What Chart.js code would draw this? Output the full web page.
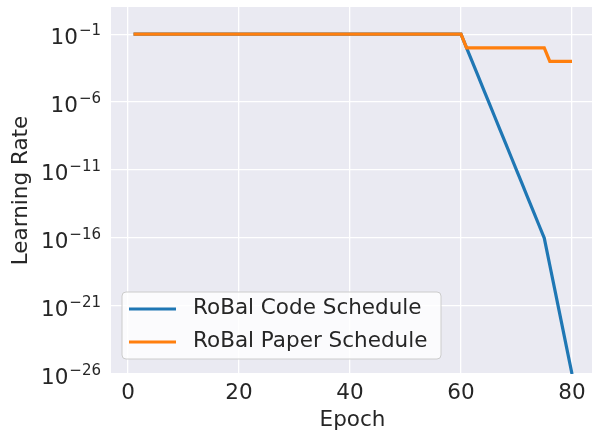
<!DOCTYPE html>
<html>
<head>
<meta charset="utf-8">
<script src="https://cdn.jsdelivr.net/npm/chart.js@4.4.1/dist/chart.umd.min.js"></script>
<style>
  html, body { margin: 0; padding: 0; background: #ffffff; }
  #wrap { width: 592px; height: 433px; }
</style>
</head>
<body>
<div id="wrap"><canvas id="lrChart" width="592" height="433"></canvas></div>
<script>
// epochs 1..80
const epochs = [
  1, 2, 3, 4, 5, 6, 7, 8, 9, 10,
  11, 12, 13, 14, 15, 16, 17, 18, 19, 20,
  21, 22, 23, 24, 25, 26, 27, 28, 29, 30,
  31, 32, 33, 34, 35, 36, 37, 38, 39, 40,
  41, 42, 43, 44, 45, 46, 47, 48, 49, 50,
  51, 52, 53, 54, 55, 56, 57, 58, 59, 60,
  61, 62, 63, 64, 65, 66, 67, 68, 69, 70,
  71, 72, 73, 74, 75, 76, 77, 78, 79, 80
];

const codeSchedule = [
  0.1, 0.1, 0.1, 0.1, 0.1, 0.1, 0.1, 0.1, 0.1, 0.1,
  0.1, 0.1, 0.1, 0.1, 0.1, 0.1, 0.1, 0.1, 0.1, 0.1,
  0.1, 0.1, 0.1, 0.1, 0.1, 0.1, 0.1, 0.1, 0.1, 0.1,
  0.1, 0.1, 0.1, 0.1, 0.1, 0.1, 0.1, 0.1, 0.1, 0.1,
  0.1, 0.1, 0.1, 0.1, 0.1, 0.1, 0.1, 0.1, 0.1, 0.1,
  0.1, 0.1, 0.1, 0.1, 0.1, 0.1, 0.1, 0.1, 0.1, 0.1,
  1e-2, 1e-3, 1e-4, 1e-5, 1e-6, 1e-7, 1e-8, 1e-9, 1e-10, 1e-11,
  1e-12, 1e-13, 1e-14, 1e-15, 1e-16, 1e-18, 1e-20, 1e-22, 1e-24, 1e-26
];

const paperSchedule = [
  0.1, 0.1, 0.1, 0.1, 0.1, 0.1, 0.1, 0.1, 0.1, 0.1,
  0.1, 0.1, 0.1, 0.1, 0.1, 0.1, 0.1, 0.1, 0.1, 0.1,
  0.1, 0.1, 0.1, 0.1, 0.1, 0.1, 0.1, 0.1, 0.1, 0.1,
  0.1, 0.1, 0.1, 0.1, 0.1, 0.1, 0.1, 0.1, 0.1, 0.1,
  0.1, 0.1, 0.1, 0.1, 0.1, 0.1, 0.1, 0.1, 0.1, 0.1,
  0.1, 0.1, 0.1, 0.1, 0.1, 0.1, 0.1, 0.1, 0.1, 0.1,
  0.01, 0.01, 0.01, 0.01, 0.01, 0.01, 0.01, 0.01, 0.01, 0.01,
  0.01, 0.01, 0.01, 0.01, 0.01, 0.001, 0.001, 0.001, 0.001, 0.001
];

const seriesNames = ['RoBal Code Schedule', 'RoBal Paper Schedule'];
const xTicks = [0, 20, 40, 60, 80];
const yTickExponents = [-1, -6, -11, -16, -21, -26];

const FONT = "'DejaVu Sans', sans-serif";
const TEXT = '#262626';

function toPoints(ys) {
  return epochs.map((e, i) => ({ x: e, y: ys[i] }));
}

// draws y tick labels as 10^n, axis titles and the legend box
const decorations = {
  id: 'decorations',
  afterDraw(chart) {
    const ctx = chart.ctx;
    const area = chart.chartArea;
    const yScale = chart.scales.y;
    ctx.save();
    ctx.fillStyle = TEXT;

    // y tick labels
    yTickExponents.forEach(function (p) {
      const y = yScale.getPixelForValue(Math.pow(10, p));
      const expText = '\u2212' + Math.abs(p);
      ctx.font = '15px ' + FONT;
      const we = ctx.measureText(expText).width;
      ctx.font = '21.5px ' + FONT;
      const wb = ctx.measureText('10').width;
      const right = 101;
      ctx.textAlign = 'left';
      ctx.textBaseline = 'alphabetic';
      ctx.fillText('10', right - we - wb - 1, y + 9.5);
      ctx.font = '15px ' + FONT;
      ctx.fillText(expText, right - we, y + 1);
    });

    // axis titles
    ctx.font = '21.5px ' + FONT;
    ctx.textAlign = 'center';
    ctx.textBaseline = 'middle';
    ctx.fillText('Epoch', (area.left + area.right) / 2 + 1, 420);
    ctx.save();
    ctx.translate(21, (area.top + area.bottom) / 2);
    ctx.rotate(-Math.PI / 2);
    ctx.fillText('Learning Rate', 0, 0);
    ctx.restore();

    // legend
    const bx = 122, by = 292, bw = 319, bh = 67, r = 4;
    ctx.beginPath();
    ctx.moveTo(bx + r, by);
    ctx.arcTo(bx + bw, by, bx + bw, by + bh, r);
    ctx.arcTo(bx + bw, by + bh, bx, by + bh, r);
    ctx.arcTo(bx, by + bh, bx, by, r);
    ctx.arcTo(bx, by, bx + bw, by, r);
    ctx.closePath();
    ctx.fillStyle = 'rgba(255,255,255,0.8)';
    ctx.fill();
    ctx.strokeStyle = '#cccccc';
    ctx.lineWidth = 1;
    ctx.stroke();

    const rows = [309, 342];
    chart.data.datasets.forEach(function (ds, i) {
      ctx.beginPath();
      ctx.moveTo(129, rows[i]);
      ctx.lineTo(176, rows[i]);
      ctx.strokeStyle = ds.borderColor;
      ctx.lineWidth = 3;
      ctx.stroke();
      ctx.fillStyle = TEXT;
      ctx.font = '21.5px ' + FONT;
      ctx.textAlign = 'left';
      ctx.textBaseline = 'middle';
      ctx.fillText(ds.label, 193, rows[i] - 0.5);
    });
    ctx.restore();
  }
};

// plot area background
const plotBg = {
  id: 'plotBg',
  beforeDraw(chart) {
    const a = chart.chartArea;
    chart.ctx.save();
    chart.ctx.fillStyle = '#eaeaf2';
    chart.ctx.fillRect(a.left, a.top, a.right - a.left, a.bottom - a.top);
    chart.ctx.restore();
  }
};

const ctx = document.getElementById('lrChart').getContext('2d');
new Chart(ctx, {
  type: 'line',
  data: {
    datasets: [{
      label: seriesNames[0],
      data: toPoints(codeSchedule),
      borderColor: '#1f77b4',
      borderWidth: 3.2,
      pointRadius: 0,
      tension: 0,
      order: 1
    }, {
      label: seriesNames[1],
      data: toPoints(paperSchedule),
      borderColor: '#ff7f0e',
      borderWidth: 3.2,
      pointRadius: 0,
      tension: 0,
      order: 0
    }]
  },
  options: {
    responsive: false,
    animation: false,
    layout: { padding: { top: 7, right: 0, left: 0, bottom: 0 } },
    plugins: {
      legend: { display: false },
      tooltip: { enabled: false }
    },
    scales: {
      x: {
        type: 'linear',
        min: -3.06,
        max: 83.6,
        afterBuildTicks: function (scale) {
          scale.ticks = xTicks.map(v => ({ value: v }));
        },
        afterFit: function (scale) {
          scale.height = 59;
          scale.paddingLeft = 0;
          scale.paddingRight = 0;
        },
        border: { display: false },
        grid: { color: '#ffffff', lineWidth: 1.3, drawTicks: false },
        ticks: {
          padding: 7,
          color: TEXT,
          font: { family: FONT, size: 21.5 },
          maxRotation: 0
        }
      },
      y: {
        type: 'logarithmic',
        min: 1e-26,
        max: 10,
        afterBuildTicks: function (scale) {
          scale.ticks = yTickExponents.map(p => ({ value: Math.pow(10, p) }));
        },
        afterFit: function (scale) {
          scale.width = 111;
          scale.paddingTop = 0;
          scale.paddingBottom = 0;
        },
        border: { display: false },
        grid: { color: '#ffffff', lineWidth: 1.3, drawTicks: false },
        ticks: { callback: () => '' }
      }
    }
  },
  plugins: [plotBg, decorations]
});
</script>
</body>
</html>
